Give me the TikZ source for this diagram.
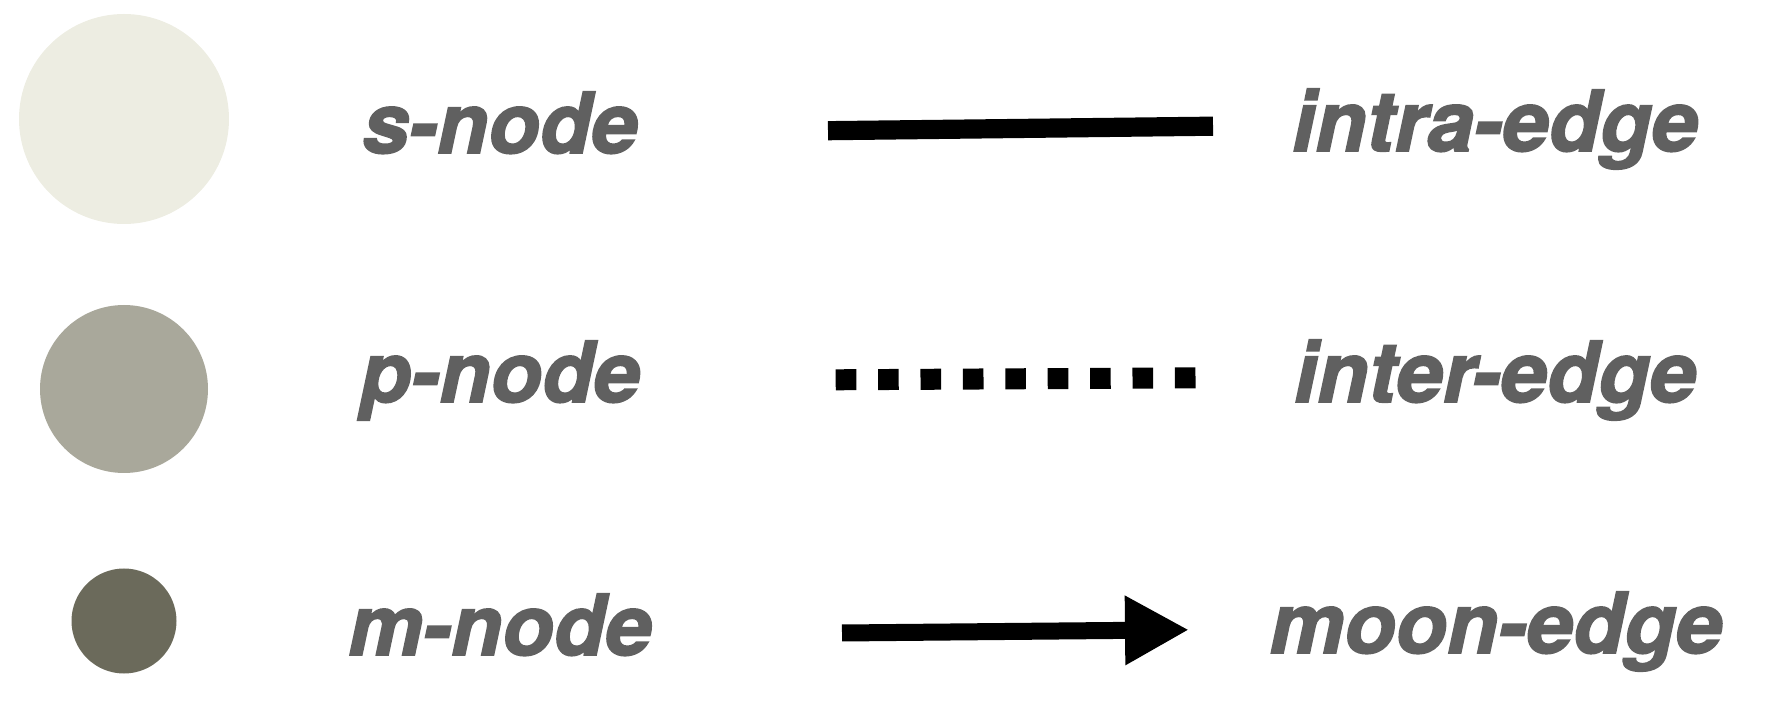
\documentclass[tikz,border=0pt]{standalone}
\usepackage{fontspec}
\setmainfont{TeX Gyre Heros}[BoldItalicFeatures={FakeBold=2}]
\usepackage{tikz}
\usetikzlibrary{arrows.meta,positioning}
\definecolor{snodefill}{HTML}{EDEDE2}
\definecolor{pnodefill}{HTML}{A9A89B}
\definecolor{mnodefill}{HTML}{6B6A5B}
\definecolor{labelgray}{HTML}{606060}
\tikzset{
  kind/.style={circle,inner sep=0pt,draw=none},
  legend/.style={anchor=base,text=labelgray,font=\fontsize{42}{50}\selectfont\bfseries\itshape}
}

\begin{document}
\begin{tikzpicture}[x=0.5pt,y=-0.5pt]
        \useasboundingbox (0,0) rectangle (1772,726);
        % The three kinds of nodes
        \node[kind,fill=snodefill,minimum size=105pt] (snode) at (124,119) {};
        \node[kind,fill=pnodefill,minimum size=84pt] (pnode) at (124,389) {};
        \node[kind,fill=mnodefill,minimum size=52.5pt] (mnode) at (124,621) {};
        % Label the nodes
        \node[legend] (snodelabel) at (500,153) {s-node};
        \node[legend] (pnodelabel) at (500,402) {p-node};
        \node[legend] (mnodelabel) at (500,655) {m-node};
        % The three kinds of edges
        \coordinate (intrastart) at (828,130.7);
        \coordinate (intraend) at (1213,126.2);
        \coordinate (interstart) at (835.7,379.8);
        \coordinate (interend) at (1196,377.8);
        \coordinate (moonstart) at (842,633);
        \coordinate (moonend) at (1189,629.8);
        \draw[line width=9.6pt] (intrastart) -- (intraend);
        \draw[line width=10.5pt,dash pattern=on 10.3pt off 10.9pt] (interstart) -- (interend);
        \draw[line width=8.5pt,-{Triangle[length=32pt,width=32.5pt]}] (moonstart) -- (moonend);
        % Label the edges
        \node[legend] (intralabel) at (1495,151) {intra-edge};
        \node[legend] (interlabel) at (1495,402) {inter-edge};
        \node[legend] (moonlabel) at (1496,653) {moon-edge};
\end{tikzpicture}
\end{document}
